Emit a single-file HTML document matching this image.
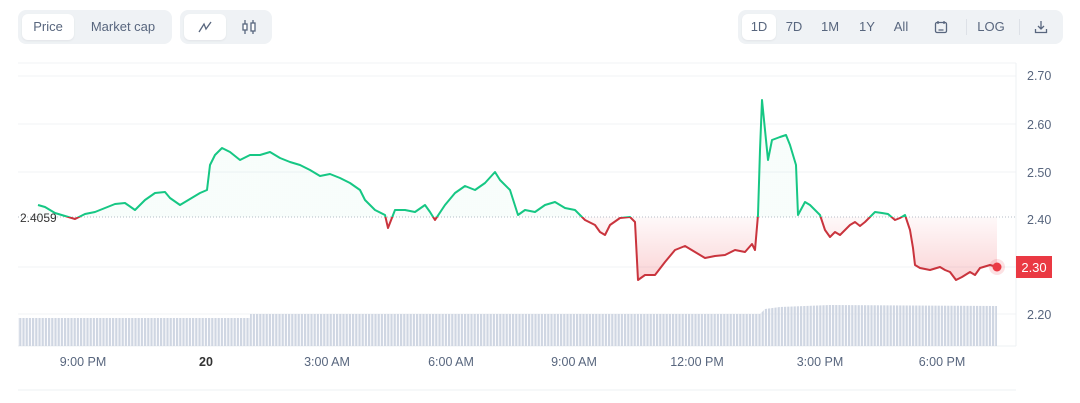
<!DOCTYPE html>
<html><head><style>
body{margin:0;width:1080px;height:403px;background:#fff;font-family:"Liberation Sans",sans-serif;overflow:hidden;position:relative}
.grp{position:absolute;top:10px;height:34px;background:#eff2f5;border-radius:8px}
.btn{position:absolute;top:4px;height:26px;line-height:26px;font-size:13px;color:#58667e;text-align:center;border-radius:6px}
.sel{background:#fff;box-shadow:0 1px 2px rgba(0,0,0,.06)}
.t{position:absolute;font-size:12.5px;color:#58667e}
</style></head><body>
<div class="grp" style="left:18px;width:154px">
 <div class="btn sel" style="left:4px;width:52px;color:#58667e">Price</div>
 <div class="btn" style="left:60px;width:90px">Market cap</div>
</div>
<div class="grp" style="left:180px;width:92px">
 <div class="btn sel" style="left:4px;width:42px">
  <svg width="16" height="14" viewBox="0 0 16 14" style="margin-top:6px"><path d="M2 12 L7 4 L9 9 L14 2" fill="none" stroke="#58667e" stroke-width="1.3"/></svg></div>
 <div class="btn" style="left:50px;width:38px">
  <svg width="18" height="16" viewBox="0 0 18 16" style="margin-top:5px" fill="none" stroke="#58667e" stroke-width="1.3"><path d="M5 1v14M13 1v14"/><rect x="3" y="5" width="4" height="6" fill="#fff"/><rect x="11" y="4" width="4" height="8" fill="#fff"/></svg></div>
</div>
<div class="grp" style="left:738px;width:325px">
 <div class="btn sel" style="left:4px;width:34px">1D</div>
 <div class="btn" style="left:40px;width:32px">7D</div>
 <div class="btn" style="left:76px;width:32px">1M</div>
 <div class="btn" style="left:114px;width:30px">1Y</div>
 <div class="btn" style="left:148px;width:30px">All</div>
 <div class="btn" style="left:190px;width:26px"><svg width="14" height="14" viewBox="0 0 14 14" style="margin-top:6px" fill="none" stroke="#58667e" stroke-width="1.3"><rect x="1.5" y="2.5" width="11" height="10" rx="1.5"/><path d="M4 1v3M10 1v3M4.5 10h5"/></svg></div>
 <div style="position:absolute;left:228px;top:9px;width:1px;height:16px;background:#dde1e7"></div>
 <div class="btn" style="left:234px;width:38px">LOG</div>
 <div style="position:absolute;left:281px;top:9px;width:1px;height:16px;background:#dde1e7"></div>
 <div class="btn" style="left:290px;width:26px"><svg width="14" height="14" viewBox="0 0 14 14" style="margin-top:6px" fill="none" stroke="#58667e" stroke-width="1.3"><path d="M7 1v8M4 6l3 3 3-3M1.5 9v3.5h11V9"/></svg></div>
</div>

<svg width="1080" height="403" style="position:absolute;left:0;top:0">
<defs>
 <linearGradient id="gg" x1="0" y1="0" x2="0" y2="1" gradientUnits="userSpaceOnUse" x1="0" y1="100" x2="0" y2="217"><stop offset="0" stop-color="#16c784" stop-opacity=".28"/><stop offset="1" stop-color="#16c784" stop-opacity=".03"/></linearGradient>
 <linearGradient id="rg" gradientUnits="userSpaceOnUse" x1="0" y1="217" x2="0" y2="290"><stop offset="0" stop-color="#ea3943" stop-opacity=".03"/><stop offset="1" stop-color="#ea3943" stop-opacity=".25"/></linearGradient>
 <clipPath id="up"><rect x="0" y="0" width="1080" height="217"/></clipPath>
 <clipPath id="dn"><rect x="0" y="217" width="1080" height="200"/></clipPath>
 <pattern id="vb" width="3.2" height="10" patternUnits="userSpaceOnUse"><rect width="2.2" height="10" fill="#cfd6e2"/></pattern>
</defs>
<g stroke="#f1f3f6" stroke-width="1">
 <line x1="18" y1="76" x2="1016" y2="76"/><line x1="18" y1="124" x2="1016" y2="124"/><line x1="18" y1="172" x2="1016" y2="172"/><line x1="18" y1="267" x2="1016" y2="267"/><line x1="18" y1="314" x2="1016" y2="314"/>
 <line x1="18" y1="63" x2="1016" y2="63"/>
</g>
<line x1="1016" y1="63" x2="1016" y2="346" stroke="#eef0f3"/>
<line x1="18" y1="346" x2="1016" y2="346" stroke="#eef0f3"/>
<line x1="18" y1="390" x2="1016" y2="390" stroke="#eef0f3"/>
<path d="M18 318 H250 V314 H760 L765 309 L780 307 L830 305 L997 306 V346 H18Z" fill="url(#vb)"/>
<line x1="18" y1="217" x2="1016" y2="217" stroke="#b5bcc7" stroke-dasharray="1 2"/>
<g id="L">
</g>
<path id="fillp" d="M38 205 L45 207 L55 213 L65 216 L75 219 L85 214 L95 212 L105 208 L115 204 L125 203 L135 210 L145 200 L155 193 L165 192 L170 198 L180 205 L190 199 L200 193 L207 190 L210 165 L215 155 L222 148 L230 152 L240 160 L250 155 L260 155 L270 152 L280 158 L290 162 L300 165 L310 170 L320 176 L330 174 L340 178 L350 183 L360 190 L365 200 L375 210 L385 215 L388 228 L395 210 L405 210 L415 212 L425 205 L430 212 L435 220 L445 205 L455 193 L465 186 L475 190 L485 183 L495 172 L500 180 L510 190 L518 215 L525 210 L535 212 L545 205 L555 202 L565 208 L575 210 L585 220 L595 225 L600 232 L605 235 L610 225 L620 218 L630 217 L635 222 L638 280 L645 275 L655 275 L665 262 L675 250 L685 246 L695 252 L705 258 L715 256 L725 255 L735 250 L745 252 L752 244 L755 250 L758 215 L760 150 L762 100 L765 130 L768 160 L772 140 L780 137 L786 135 L790 145 L796 165 L798 215 L805 202 L810 205 L815 210 L820 215 L825 230 L830 237 L835 232 L840 235 L845 230 L850 225 L855 222 L860 226 L865 222 L870 217 L875 212 L882 213 L888 214 L895 220 L900 218 L905 215 L910 230 L913 248 L915 265 L920 268 L930 270 L940 267 L945 270 L950 272 L956 280 L962 277 L970 272 L975 275 L980 268 L990 265 L997 267" fill="none"/>
<g clip-path="url(#up)"><use href="#fillp" fill="url(#gg)" style="fill:url(#gg)"/></g>
<path d="" />
<script>
var d=document.getElementById('fillp').getAttribute('d');
var ns='http://www.w3.org/2000/svg',s=document.currentScript.parentNode;
function mk(dd,a){var p=document.createElementNS(ns,'path');p.setAttribute('d',dd);for(var k in a)p.setAttribute(k,a[k]);s.appendChild(p);}
mk(d+' L997 217 L38 217Z',{fill:'url(#gg)','clip-path':'url(#up)'});
mk(d+' L997 217 L38 217Z',{fill:'url(#rg)','clip-path':'url(#dn)'});
mk(d,{fill:'none',stroke:'#16c784','stroke-width':'2','clip-path':'url(#up)','stroke-linejoin':'round'});
mk(d,{fill:'none',stroke:'#c9343d','stroke-width':'2','clip-path':'url(#dn)','stroke-linejoin':'round'});
var c=document.createElementNS(ns,'circle');c.setAttribute('cx',997);c.setAttribute('cy',267);c.setAttribute('r',8);c.setAttribute('fill','rgba(234,57,67,.15)');s.appendChild(c);
c=document.createElementNS(ns,'circle');c.setAttribute('cx',997);c.setAttribute('cy',267);c.setAttribute('r',4.5);c.setAttribute('fill','#ea3943');s.appendChild(c);
</script>
<rect x="1016" y="256" width="36" height="22" fill="#ea3943"/>
<text x="1034" y="272" fill="#fff" font-size="13" text-anchor="middle" font-family="Liberation Sans">2.30</text>
<g fill="#58667e" font-size="12.5" font-family="Liberation Sans">
 <text x="1027" y="80">2.70</text><text x="1027" y="129">2.60</text><text x="1027" y="177">2.50</text><text x="1027" y="224">2.40</text><text x="1027" y="319">2.20</text>
 <text x="20" y="222" fill="#333" font-size="12">2.4059</text>
 <g text-anchor="middle"><text x="83" y="366">9:00 PM</text><text x="206" y="366" font-weight="bold" fill="#333">20</text><text x="327" y="366">3:00 AM</text><text x="451" y="366">6:00 AM</text><text x="574" y="366">9:00 AM</text><text x="697" y="366">12:00 PM</text><text x="820" y="366">3:00 PM</text><text x="942" y="366">6:00 PM</text></g>
</g>
</svg>
</body></html>
